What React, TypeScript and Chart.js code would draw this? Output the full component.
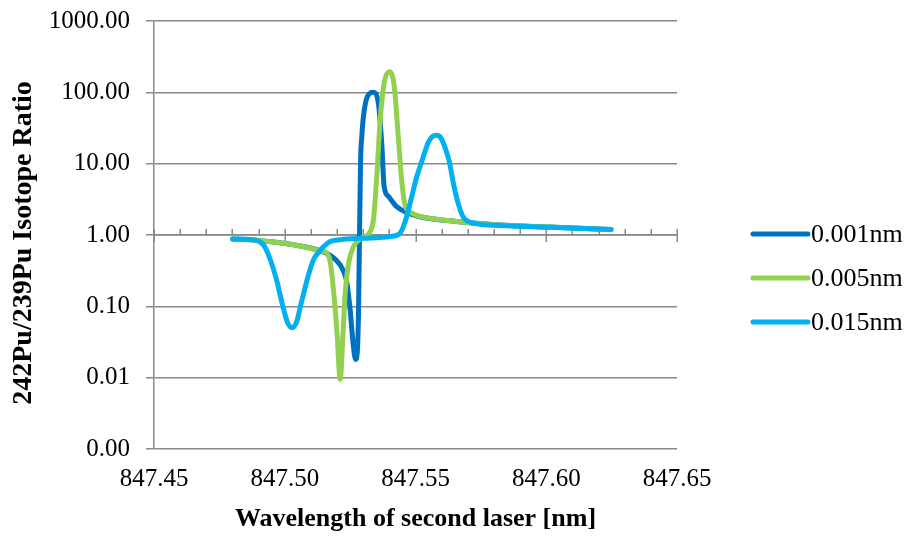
import React, { useEffect, useRef } from 'react';
import { Chart, registerables } from 'chart.js';

Chart.register(...registerables);

const FONT = "'Liberation Serif', 'Times New Roman', serif";

const SERIES_LABELS = ['0.001nm', '0.005nm', '0.015nm'];
const SERIES_COLORS = ['#0070C0', '#92D050', '#00B0F0'];
const Y_TITLE = '242Pu/239Pu Isotope Ratio';
const X_TITLE = 'Wavelength of second laser [nm]';

// wavelength [nm] and isotope ratio, series 0.001nm
const WL_0001 = [847.4801, 847.4900, 847.5022, 847.5136, 847.5174, 847.5212, 847.5231, 847.5238, 847.5250, 847.5261,
  847.5271, 847.5277, 847.5282, 847.5286, 847.5290, 847.5295, 847.5301, 847.5316, 847.5339, 847.5358,
  847.5371, 847.5380, 847.5396, 847.5428, 847.5466, 847.5517, 847.5631, 847.5822, 847.6012, 847.6241];
const RATIO_0001 = [0.88, 0.84, 0.74, 0.60, 0.52, 0.38, 0.27, 0.21, 0.09, 0.031,
  0.018, 0.022, 0.081, 1.07, 11, 25, 46, 87, 100, 70,
  19, 4.8, 3.5, 2.5, 2.07, 1.8, 1.58, 1.38, 1.29, 1.19];

// series 0.005nm
const WL_0005 = [847.4801, 847.4900, 847.5022, 847.5136, 847.5162, 847.5174, 847.5187, 847.5200, 847.5212, 847.5223,
  847.5231, 847.5244, 847.5263, 847.5295, 847.5327, 847.5339, 847.5352, 847.5365, 847.5380, 847.5400,
  847.5419, 847.5434, 847.5447, 847.5460, 847.5486, 847.5517, 847.5631, 847.5822, 847.6012, 847.6241];
const RATIO_0005 = [0.88, 0.84, 0.74, 0.60, 0.55, 0.42, 0.16, 0.042, 0.0095, 0.042,
  0.154, 0.40, 0.69, 0.91, 1.12, 1.63, 6.6, 41, 134, 195,
  120, 24, 5.9, 2.65, 2.03, 1.82, 1.58, 1.38, 1.29, 1.19];

// series 0.015nm
const WL_0015 = [847.4801, 847.4870, 847.4900, 847.4922, 847.4945, 847.4968, 847.4990, 847.5010, 847.5028, 847.5045,
  847.5060, 847.5073, 847.5090, 847.5110, 847.5129, 847.5144, 847.5174, 847.5212, 847.5300, 847.5403,
  847.5441, 847.5454, 847.5466, 847.5486, 847.5505, 847.5517, 847.5530, 847.5549, 847.5564, 847.5581,
  847.5597, 847.5619, 847.5631, 847.5644, 847.5663, 847.5682, 847.5720, 847.5822, 847.6012, 847.6249];
const RATIO_0015 = [0.88, 0.86, 0.82, 0.70, 0.45, 0.24, 0.11, 0.06, 0.05, 0.06,
  0.10, 0.155, 0.27, 0.45, 0.57, 0.66, 0.81, 0.86, 0.90, 0.95,
  1.06, 1.32, 1.8, 3.5, 6.6, 9, 12.6, 20, 24, 25,
  23, 14.5, 10, 5.5, 2.8, 1.8, 1.47, 1.36, 1.28, 1.19];

const X_TICKS = [847.45, 847.5, 847.55, 847.6, 847.65];
const Y_TICKS = [0.001, 0.01, 0.1, 1, 10, 100, 1000];
const X_MIN = 847.45;
const X_MAX = 847.65;
const X_MINOR_STEP = 0.01;

const SERIES_X = [WL_0001, WL_0005, WL_0015];
const SERIES_Y = [RATIO_0001, RATIO_0005, RATIO_0015];

const GRID = '#8a8a8a';

const crossAxisPlugin = {
  id: 'crossAxis',
  beforeDatasetsDraw(chart: any) {
    const { ctx, chartArea, scales } = chart;
    const xs = scales.x;
    const ys = scales.y;
    const y0 = ys.getPixelForValue(1);
    ctx.save();
    ctx.strokeStyle = GRID;
    ctx.lineWidth = 1.5;
    ctx.beginPath();
    ctx.moveTo(chartArea.left, y0);
    ctx.lineTo(chartArea.right, y0);
    const n = Math.round((X_MAX - X_MIN) / X_MINOR_STEP);
    for (let i = 0; i <= n; i++) {
      const v = X_MIN + i * X_MINOR_STEP;
      const px = Math.round(xs.getPixelForValue(v)) + 0.25;
      const major = i % 5 === 0;
      ctx.moveTo(px, y0 - 6);
      ctx.lineTo(px, major ? y0 + 7 : y0);
    }
    ctx.stroke();
    ctx.restore();
  },
};

const yTitlePlugin = {
  id: 'yTitle',
  afterDraw(chart: any) {
    const { ctx, chartArea } = chart;
    ctx.save();
    ctx.translate(24, (chartArea.top + chartArea.bottom) / 2 + 8);
    ctx.rotate(-Math.PI / 2);
    ctx.fillStyle = '#000';
    ctx.font = `bold 28px ${FONT}`;
    ctx.textAlign = 'center';
    ctx.textBaseline = 'middle';
    ctx.fillText(Y_TITLE, 0, 0);
    ctx.restore();
  },
};

const legendPlugin = {
  id: 'customLegend',
  afterDraw(chart: any) {
    const { ctx, chartArea } = chart;
    ctx.save();
    const x0 = chartArea.right + 76;
    const y0 = chartArea.top + 213;
    chart.data.datasets.forEach((ds: any, i: number) => {
      const y = y0 + i * 44;
      ctx.strokeStyle = ds.borderColor;
      ctx.lineWidth = 5;
      ctx.lineCap = 'round';
      ctx.beginPath();
      ctx.moveTo(x0, y);
      ctx.lineTo(x0 + 55, y);
      ctx.stroke();
      ctx.fillStyle = '#000';
      ctx.font = `26px ${FONT}`;
      ctx.textBaseline = 'middle';
      ctx.textAlign = 'left';
      ctx.fillText(ds.label, x0 + 58, y + 1);
    });
    ctx.restore();
  },
};

export default function App() {
  const ref = useRef<HTMLCanvasElement | null>(null);

  useEffect(() => {
    if (!ref.current) return;
    const datasets = SERIES_LABELS.map((label, i) => ({
      label,
      data: SERIES_X[i].map((x, j) => ({ x, y: SERIES_Y[i][j] })),
      borderColor: SERIES_COLORS[i],
      backgroundColor: SERIES_COLORS[i],
      borderWidth: 5,
      pointRadius: 0,
      fill: false,
      cubicInterpolationMode: 'monotone' as const,
      borderCapStyle: 'round' as const,
      borderJoinStyle: 'round' as const,
      order: SERIES_LABELS.length - 1 - i,
    }));

    const chart = new Chart(ref.current, {
      type: 'line',
      data: { datasets },
      options: {
        animation: false,
        responsive: true,
        maintainAspectRatio: false,
        layout: { padding: { top: 21, right: 232, left: 0, bottom: 0 } },
        plugins: {
          legend: { display: false },
          tooltip: { enabled: false },
        },
        scales: {
          x: {
            type: 'linear',
            min: X_MIN,
            max: X_MAX,
            grid: { display: false, drawTicks: false },
            border: { display: false },
            afterBuildTicks: (s: any) => {
              s.ticks = X_TICKS.map((v) => ({ value: v }));
            },
            afterFit: (s: any) => {
              s.height = 87;
              s.paddingLeft = 0;
              s.paddingRight = 0;
            },
            ticks: {
              autoSkip: false,
              maxRotation: 0,
              padding: 15,
              color: '#000',
              font: { family: FONT, size: 25 },
              callback: (v: any) => Number(v).toFixed(2),
            },
            title: {
              display: true,
              text: X_TITLE,
              color: '#000',
              font: { family: FONT, size: 26, weight: 'bold' },
              padding: { top: 4, bottom: 1 },
            },
          },
          y: {
            type: 'logarithmic',
            min: 0.001,
            max: 1000,
            afterBuildTicks: (s: any) => {
              s.ticks = Y_TICKS.map((v) => ({ value: v }));
            },
            afterFit: (s: any) => {
              s.width = 154;
              s.paddingTop = 0;
              s.paddingBottom = 0;
            },
            grid: { color: GRID, lineWidth: 1.5, tickLength: 8, drawTicks: true },
            border: { display: true, color: GRID, width: 1.5 },
            ticks: {
              padding: 16,
              color: '#000',
              font: { family: FONT, size: 25 },
              callback: (v: any) => Number(v).toFixed(2),
            },
            title: { display: false },
          },
        },
      },
      plugins: [crossAxisPlugin, legendPlugin, yTitlePlugin],
    });
    return () => chart.destroy();
  }, []);

  return (
    <div style={{ position: 'absolute', left: 0, top: 0, width: 909, height: 536, background: '#fff' }}>
      <canvas ref={ref} />
    </div>
  );
}
